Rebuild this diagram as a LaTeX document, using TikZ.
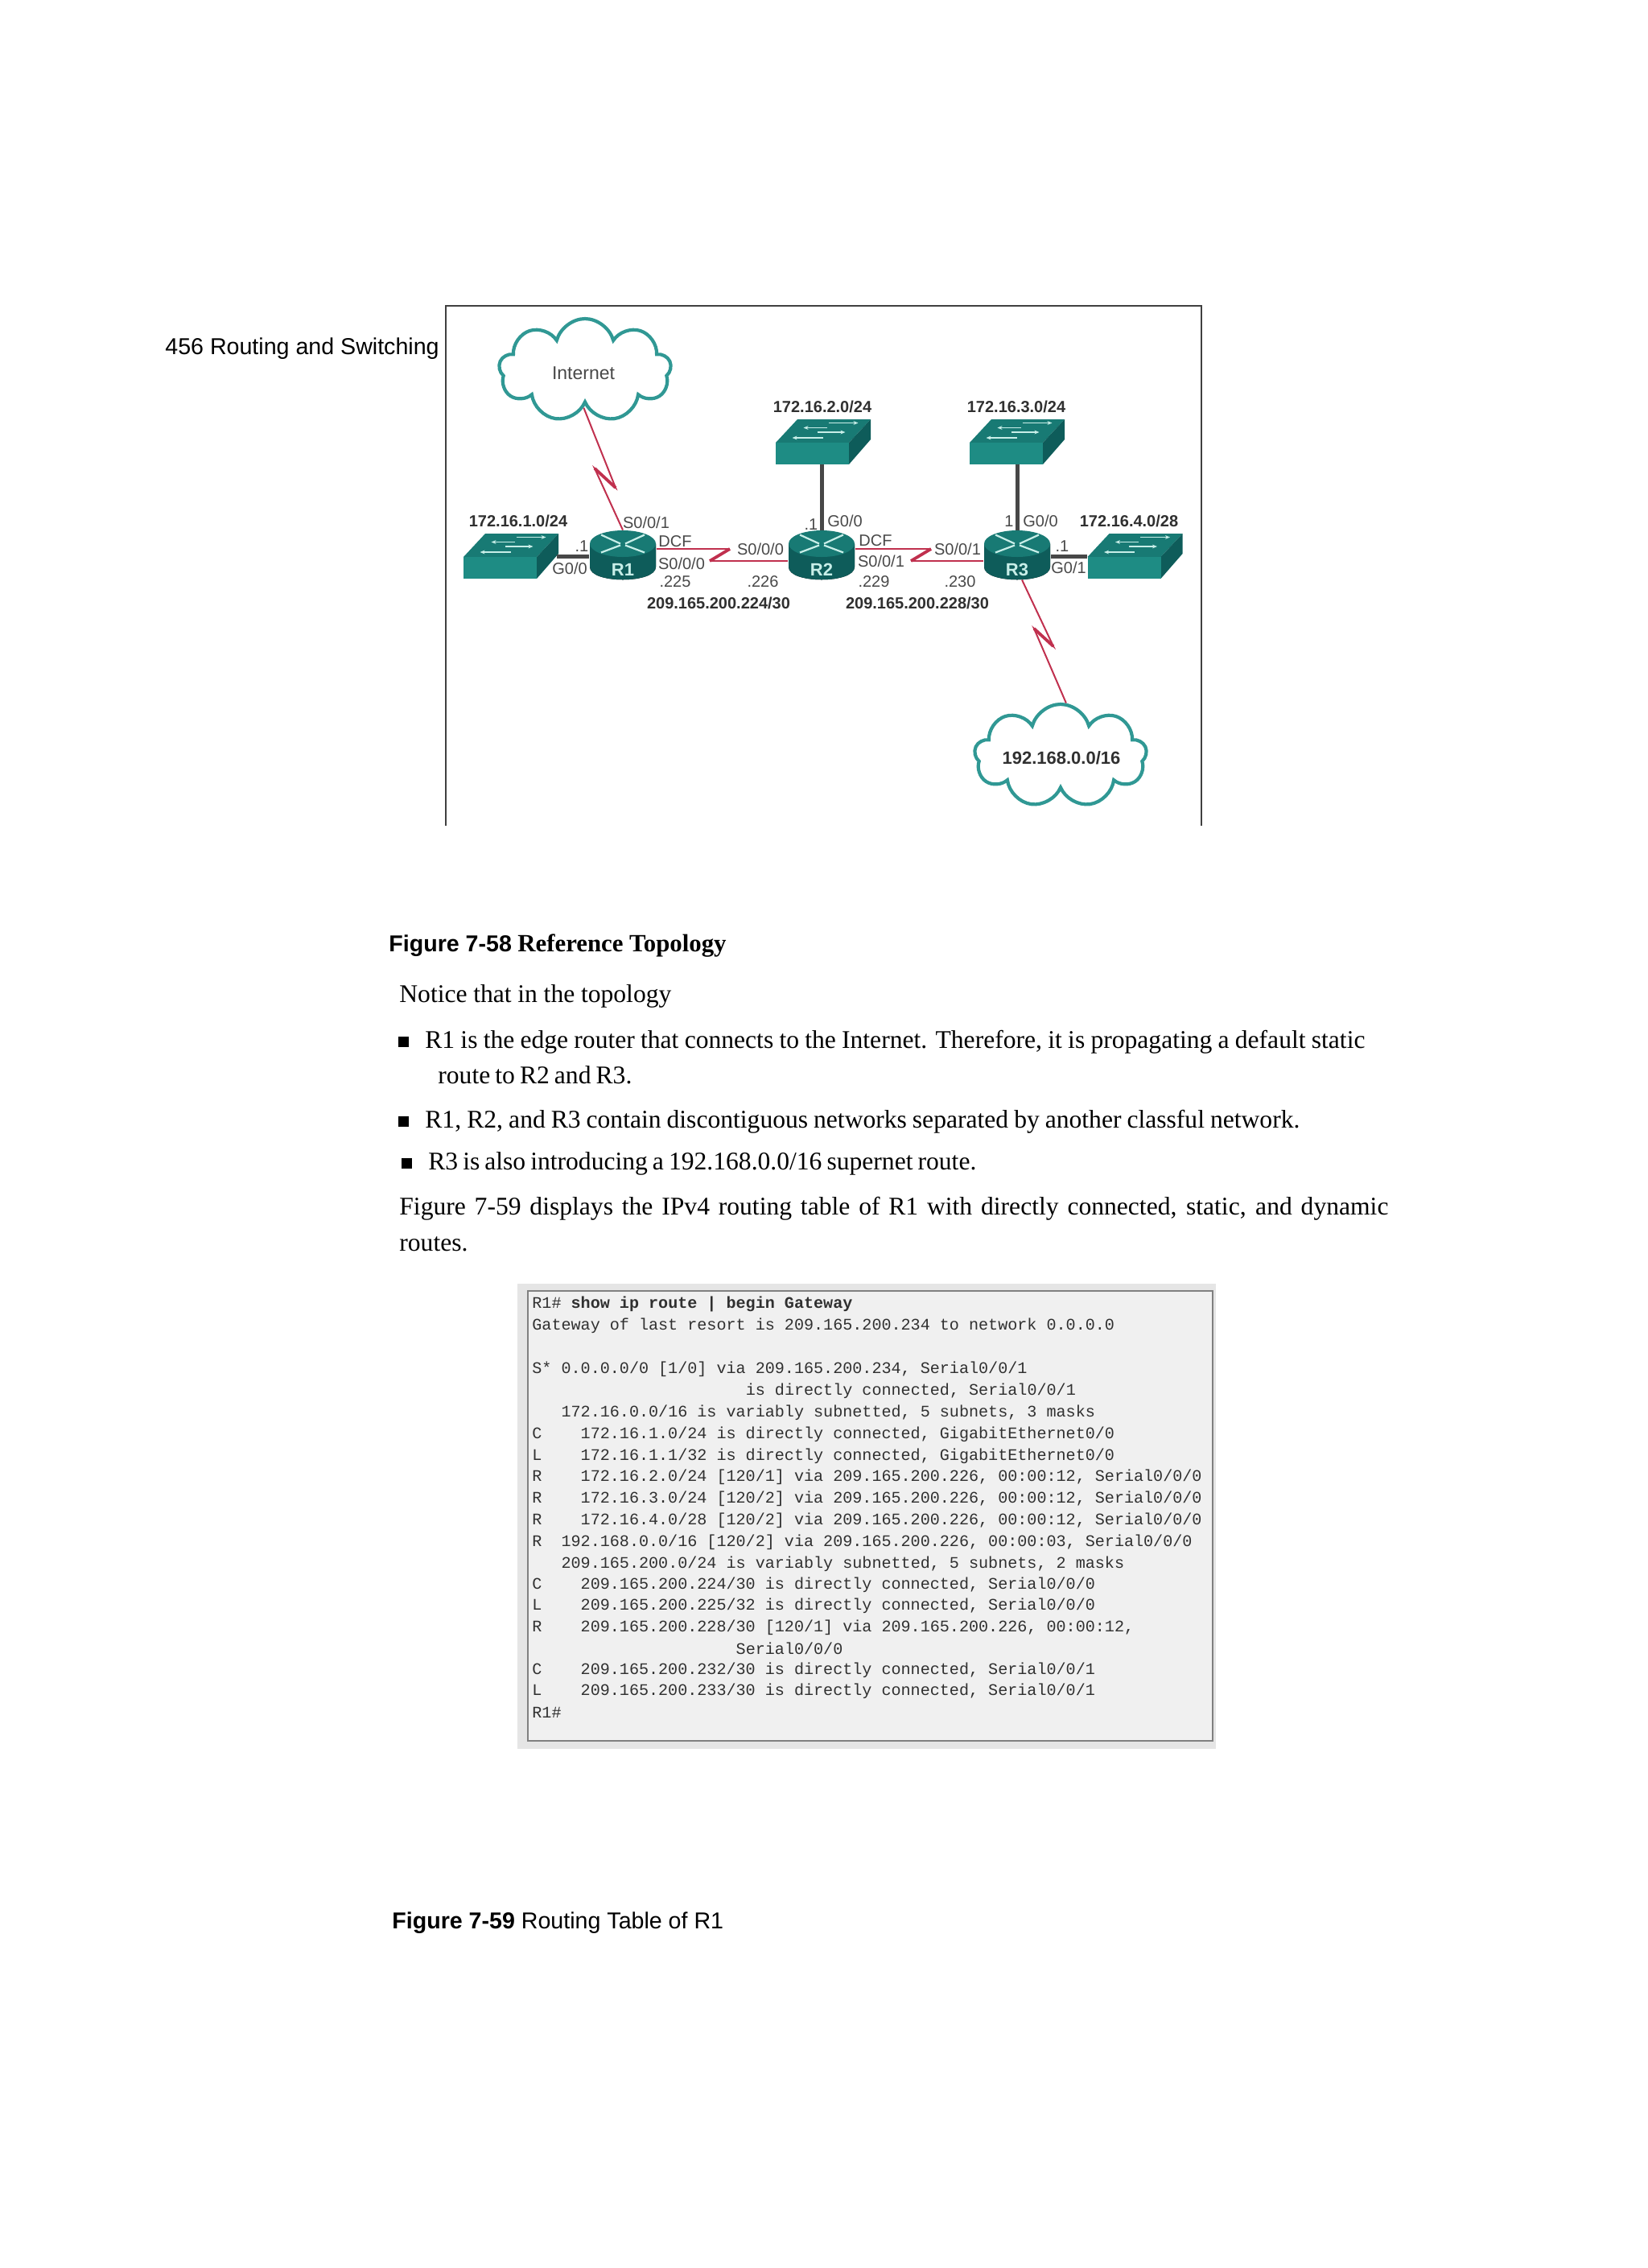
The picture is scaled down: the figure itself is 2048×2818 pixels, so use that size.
\documentclass[tikz,border=0pt]{standalone}
\usepackage{fontspec}
\setmainfont{Liberation Serif}
\setsansfont{Liberation Sans}
\setmonofont{Liberation Mono}
\usetikzlibrary{arrows.meta,shapes.symbols}
\definecolor{tealF}{RGB}{30,140,132}
\definecolor{tealT}{RGB}{24,122,116}
\definecolor{tealD}{RGB}{14,92,90}
\definecolor{tealC}{RGB}{48,152,148}
\definecolor{wanR}{RGB}{192,48,78}
\definecolor{tagG}{RGB}{72,72,72}
\definecolor{netG}{RGB}{48,48,48}
\definecolor{iconW}{RGB}{200,238,232}
\newlength{\PX}
\setlength{\PX}{0.5pt}
\newcommand{\FS}[1]{\fontsize{#1}{#1}\selectfont}

\begin{document}
\begin{tikzpicture}[
    x=0.5pt, y=-0.5pt,
    lan/.style={draw=black!72, line width=2.5pt},
    wan/.style={draw=wanR, line width=1pt},
    kink/.style={draw=wanR, line width=1.9pt},
    rtr/.style={rectangle, minimum width=42pt, minimum height=30.5pt, inner sep=0pt},
    rtag/.style={font=\sffamily\bfseries\FS{11}, text=iconW},
    swf/.style={rectangle, fill=tealF, minimum width=45.5pt, minimum height=13.5pt, inner sep=0pt},
    icon/.style={draw=iconW, line width=1.1pt},
    swa/.style={draw=iconW, line width=0.7pt, -{Stealth[length=3pt,width=2.4pt]}},
    blob/.style={cloud, cloud puffs=9, cloud ignores aspect, draw=tealC, line width=2.1pt, fill=white,
      minimum width=107pt, minimum height=64pt, inner sep=0pt},
    tag/.style={font=\sffamily\FS{10}, text=tagG, text height=7.2pt, text depth=0pt, inner sep=0pt},
    net/.style={font=\sffamily\bfseries\FS{10}, text=netG, text height=7.2pt, text depth=0pt, inner sep=0pt},
    bodytxt/.style={anchor=west, font=\FS{15.8}, text height=13pt, text depth=3.5pt, inner sep=0pt},
    capt/.style={anchor=west, font=\sffamily\FS{14.3}, text height=13pt, text depth=3.5pt, inner sep=0pt},
    dot/.style={rectangle, fill=black, minimum size=6.5pt, inner sep=0pt},
    rt/.style={anchor=west, font=\ttfamily\FS{10.05}, text=netG, text height=8.5pt, text depth=2pt, inner sep=0pt},
  ]
  \useasboundingbox (0,0) rectangle (2048,2818);

  % switch: #1 name, #2 x, #3 y of the front face
  \newcommand{\switchbox}[3]{%
    \fill[tealT] (#2-45.5,#3-13.5) -- (#2+45.5,#3-13.5) -- (#2+72.5,#3-42.5) -- (#2-18.5,#3-42.5) -- cycle;
    \fill[tealD] (#2+45.5,#3-13.5) -- (#2+72.5,#3-42.5) -- (#2+72.5,#3-17.5) -- (#2+45.5,#3+13.5) -- cycle;
    \node[swf] (#1) at (#2,#3) {};
    \coordinate (#1side) at (#2+70.5,#3-14.5);
    \draw[swa] (#2+20,#3-38) -- (#2+57,#3-38);
    \draw[swa] (#2+18,#3-32) -- (#2-11,#3-32);
    \draw[swa] (#2+6,#3-26.5) -- (#2+41,#3-26.5);
    \draw[swa] (#2+13,#3-19.5) -- (#2-25,#3-19.5);}

  % router: #1 name, #2 x, #3 y
  \newcommand{\router}[3]{%
    \node[rtr] (#1) at (#2,#3) {};
    \fill[left color=tealD, middle color=tealF, right color=tealD]
      (#2-41,#3-14) -- (#2-41,#3+15) .. controls (#2-41,#3+36) and (#2+41,#3+36) .. (#2+41,#3+15)
      -- (#2+41,#3-14) -- cycle;
    \fill[tealT] (#2,#3-14) circle [x radius=41, y radius=16.5];
    \draw[icon] (#2-27,#3-25) -- (#2-3,#3-14);
    \draw[icon] (#2+27,#3-25) -- (#2+3,#3-14);
    \draw[icon] (#2-27,#3-3) -- (#2-3,#3-12);
    \draw[icon] (#2+27,#3-3) -- (#2+3,#3-12);
    \node[rtag] (#1tag) at (#2,#3+18) {#1};}

  % one line of running text, spread to its width
  \newcommand{\bodyline}[5]{%
    \node[bodytxt] (#1) at (#2,#3) {\makebox[#4\PX][s]{#5}};}

  % one line of the routing table
  \newcommand{\rtline}[3]{%
    \node[rt] (#1) at (661,#2) {#3};}

  \node[capt] (hdr) at (205,431) {456 Routing and Switching};

  % frame of the topology, open at the foot
  \draw[draw=black!75, line width=0.8pt] (554,1026) -- (554,380) -- (1493,380) -- (1493,1026);

  \node[blob] (inet) at (727,460) {};
  \node[blob] (isp) at (1318,939) {};
  \node[tag, font=\sffamily\FS{11.5}] (inettag) at (725,464) {Internet};
  \node[net, font=\sffamily\bfseries\FS{11}] (isptag) at (1319,942) {192.168.0.0/16};

  \switchbox{sw1}{621.5}{705.5}
  \switchbox{sw2}{1009.5}{563.5}
  \switchbox{sw3}{1250.5}{563.5}
  \switchbox{sw4}{1397}{705.5}

  % links run behind the routers
  \coordinate (k1a) at (907,682);
  \coordinate (k1b) at (882,697);
  \coordinate (k2a) at (1157,682);
  \coordinate (k2b) at (1132,697);
  \coordinate (b1a) at (765,606);
  \coordinate (b1b) at (739,582);
  \coordinate (b2a) at (1309,803);
  \coordinate (b2b) at (1285,781);

  \router{R1}{774}{689.5}
  \router{R2}{1021}{689.5}
  \router{R3}{1264}{689.5}

  \draw[lan] (sw1side) -- (R1.west |- sw1side);
  \draw[lan] (R3.east |- sw4.north west) -- (sw4.north west);
  \draw[lan] (R2.north) -- (R2.north |- sw2.south);
  \draw[lan] (R3.north) -- (R3.north |- sw3.south);
  \draw[wan] (R1.east |- k1a) -- (k1a);
  \draw[wan] (k1b) -- (R2.west |- k1b);
  \draw[kink] (k1a) -- (k1b);
  \draw[wan] (R2.east |- k2a) -- (k2a);
  \draw[wan] (k2b) -- (R3.west |- k2b);
  \draw[kink] (k2a) -- (k2b);
  \draw[wan] (inet.268) -- (b1a) -- (b1b) -- (R1.north);
  \draw[wan] (R3.281) -- (b2a) -- (b2b) -- (isp.84);
  \draw[kink] (b1a) -- (b1b);
  \draw[kink] (b2a) -- (b2b);

  \node[net] (n1) at (644,647) {172.16.1.0/24};
  \node[net] (n2) at (1022,505) {172.16.2.0/24};
  \node[net] (n3) at (1263,505) {172.16.3.0/24};
  \node[net] (n4) at (1403,647) {172.16.4.0/28};
  \node[net] (n5) at (893,749) {209.165.200.224/30};
  \node[net] (n6) at (1140,749) {209.165.200.228/30};

  \node[tag] (t1) at (723,678) {.1};
  \node[tag] (t2) at (708,706) {G0/0};
  \node[tag] (t3) at (803,649) {S0/0/1};
  \node[tag] (t4) at (839,672) {DCF};
  \node[tag] (t5) at (847,700) {S0/0/0};
  \node[tag] (t6) at (839,722) {.225};
  \node[tag] (t7) at (945,682) {S0/0/0};
  \node[tag] (t8) at (948,722) {.226};
  \node[tag] (t9) at (1008,651) {.1};
  \node[tag] (t10) at (1050,647) {G0/0};
  \node[tag] (t11) at (1088,671) {DCF};
  \node[tag] (t12) at (1095,697) {S0/0/1};
  \node[tag] (t13) at (1086,722) {.229};
  \node[tag] (t14) at (1190,682) {S0/0/1};
  \node[tag] (t15) at (1193,722) {.230};
  \node[tag] (t16) at (1254,647) {1};
  \node[tag] (t17) at (1293,647) {G0/0};
  \node[tag] (t18) at (1320,678) {.1};
  \node[tag] (t19) at (1328,705) {G0/1};

  \node[capt] (cap1) at (483,1173) {\textbf{Figure 7-58}};
  \node[bodytxt, font=\bfseries\FS{15.4}] (cap1b) at (643,1173) {Reference Topology};

  \bodyline{p1}{496}{1236}{338}{Notice that in the topology}
  \node[dot] (d1) at (501,1294) {};
  \bodyline{p2}{528}{1293}{1168}{R1 is the edge router that connects to the Internet. Therefore, it is propagating a default static}
  \bodyline{p3}{544}{1337}{241}{route to R2 and R3.}
  \node[dot] (d2) at (501,1393) {};
  \bodyline{p4}{528}{1392}{1087}{R1, R2, and R3 contain discontiguous networks separated by another classful network.}
  \node[dot] (d3) at (505,1445) {};
  \bodyline{p5}{532}{1444}{681}{R3 is also introducing a 192.168.0.0/16 supernet route.}
  \bodyline{p6}{496}{1500}{1229}{Figure 7-59 displays the IPv4 routing table of R1 with directly connected, static, and dynamic}
  \bodyline{p7}{496}{1545}{86}{routes.}

  % routing table panel
  \fill[black!10] (643,1595) rectangle (1511,2173);
  \draw[draw=black!50, fill=black!6, line width=1pt] (656,1604) rectangle (1507,2163);
  \rtline{l1}{1619}{R1\# \textbf{show ip route | begin Gateway}}
  \rtline{l2}{1646}{Gateway of last resort is 209.165.200.234 to network 0.0.0.0}
  \rtline{l3}{1700}{S* 0.0.0.0/0 [1/0] via 209.165.200.234, Serial0/0/1}
  \rtline{l4}{1727}{~~~~~~~~~~~~~~~~~~~~~~is directly connected, Serial0/0/1}
  \rtline{l5}{1754}{~~~172.16.0.0/16 is variably subnetted, 5 subnets, 3 masks}
  \rtline{l6}{1781}{C~~~~172.16.1.0/24 is directly connected, GigabitEthernet0/0}
  \rtline{l7}{1808}{L~~~~172.16.1.1/32 is directly connected, GigabitEthernet0/0}
  \rtline{l8}{1834}{R~~~~172.16.2.0/24 [120/1] via 209.165.200.226, 00:00:12, Serial0/0/0}
  \rtline{l9}{1861}{R~~~~172.16.3.0/24 [120/2] via 209.165.200.226, 00:00:12, Serial0/0/0}
  \rtline{l10}{1888}{R~~~~172.16.4.0/28 [120/2] via 209.165.200.226, 00:00:12, Serial0/0/0}
  \rtline{l11}{1915}{R~~192.168.0.0/16 [120/2] via 209.165.200.226, 00:00:03, Serial0/0/0}
  \rtline{l12}{1942}{~~~209.165.200.0/24 is variably subnetted, 5 subnets, 2 masks}
  \rtline{l13}{1968}{C~~~~209.165.200.224/30 is directly connected, Serial0/0/0}
  \rtline{l14}{1994}{L~~~~209.165.200.225/32 is directly connected, Serial0/0/0}
  \rtline{l15}{2021}{R~~~~209.165.200.228/30 [120/1] via 209.165.200.226, 00:00:12,}
  \rtline{l16}{2049}{~~~~~~~~~~~~~~~~~~~~~Serial0/0/0}
  \rtline{l17}{2074}{C~~~~209.165.200.232/30 is directly connected, Serial0/0/1}
  \rtline{l18}{2100}{L~~~~209.165.200.233/30 is directly connected, Serial0/0/1}
  \rtline{l19}{2128}{R1\#}

  \node[capt] (cap2) at (487,2387) {\textbf{Figure 7-59} Routing Table of R1};

\end{tikzpicture}
\end{document}
